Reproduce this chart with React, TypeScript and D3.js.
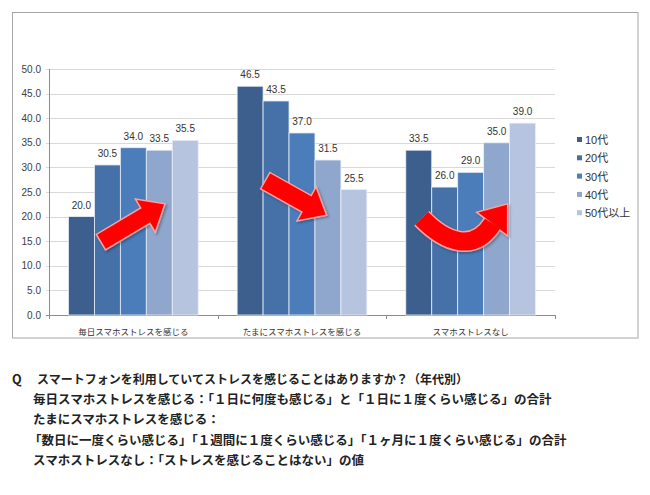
import * as d3 from 'd3';
import React from 'react';

const categories = ['毎日スマホストレスを感じる', 'たまにスマホストレスを感じる', 'スマホストレスなし'];
const seriesNames = ['10代', '20代', '30代', '40代', '50代以上'];
const values10 = [20.0, 46.5, 33.5];
const values20 = [30.5, 43.5, 26.0];
const values30 = [34.0, 37.0, 29.0];
const values40 = [33.5, 31.5, 35.0];
const values50 = [35.5, 25.5, 39.0];
const yTicks = [0, 5, 10, 15, 20, 25, 30, 35, 40, 45, 50];

const noteLines = [
    'スマートフォンを利用していてストレスを感じることはありますか？（年代別）',
    '毎日スマホストレスを感じる：「１日に何度も感じる」と「１日に１度くらい感じる」の合計',
    'たまにスマホストレスを感じる：',
    '「数日に一度くらい感じる」「１週間に１度くらい感じる」「１ヶ月に１度くらい感じる」の合計',
    'スマホストレスなし：「ストレスを感じることはない」の値',
];

const colours = ['#3c5f8e', '#4570a8', '#4c7dbb', '#8fa6cd', '#b6c4df'];

const numFont = '"Liberation Sans", Arial, "Noto Sans CJK JP", sans-serif';
const jpFont = '"Noto Sans CJK JP", sans-serif';

type Pt = [number, number];

// straight block arrow as polygon from tail to tip
function blockArrow(tail: Pt, tip: Pt, body: number, head: number, headLen: number) {
    const dx = tip[0] - tail[0];
    const dy = tip[1] - tail[1];
    const len = Math.sqrt(dx * dx + dy * dy);
    const ux = dx / len, uy = dy / len;
    const nx = -uy, ny = ux;
    const bx = tip[0] - ux * headLen, by = tip[1] - uy * headLen;
    const p = (x: number, y: number, k: number) => `${x + nx * k},${y + ny * k}`;
    return [
        p(tail[0], tail[1], body / 2), p(bx, by, body / 2), p(bx, by, head / 2),
        `${tip[0]},${tip[1]}`,
        p(bx, by, -head / 2), p(bx, by, -body / 2), p(tail[0], tail[1], -body / 2),
    ].join(' ');
}

function headTriangle(base: Pt, tip: Pt, head: number) {
    const dx = tip[0] - base[0];
    const dy = tip[1] - base[1];
    const len = Math.sqrt(dx * dx + dy * dy);
    const nx = -dy / len, ny = dx / len;
    return `${base[0] + nx * head / 2},${base[1] + ny * head / 2} ${tip[0]},${tip[1]} ${base[0] - nx * head / 2},${base[1] - ny * head / 2}`;
}

export default function App() {
    const width = 650;
    const height = 495;
    const plot = { left: 49, right: 555, top: 69, bottom: 315 };

    const series = [values10, values20, values30, values40, values50];

    const x0 = d3.scaleBand<string>().domain(categories).range([plot.left, plot.right]).padding(0);
    const bw = x0.bandwidth();
    const x1 = d3.scaleBand<string>().domain(seriesNames)
        .range([bw * 0.75 / 6.5, bw * 5.75 / 6.5]).padding(0);
    const y = d3.scaleLinear().domain([0, 50]).range([plot.bottom, plot.top]);

    // annotation helper: group index, fraction across group, value
    const at = (g: number, f: number, v: number): Pt => [(x0(categories[g]) as number) + f * bw, y(v)];

    const arrow1 = blockArrow(at(0, 0.308, 14.8), at(0, 0.688, 22.6), 18, 39, 23);
    const arrow2 = blockArrow(at(1, 0.282, 27.3), at(1, 0.646, 20.3), 19, 39, 23);
    const c0 = at(2, 0.21, 19.65);
    const c1 = at(2, 0.35, 14.7);
    const c2 = at(2, 0.52, 12.6);
    const c3 = at(2, 0.63, 18.6);
    const tip3 = at(2, 0.715, 22.4);
    const curve = `M${c0[0]},${c0[1]} C${c1[0]},${c1[1]} ${c2[0]},${c2[1]} ${c3[0]},${c3[1]}`;
    const head3 = headTriangle(c3, tip3, 36);

    const red = '#ff0000';
    const rim = '#f6a3a3';

    return (
        <svg width={width} height={height} style={{ position: 'absolute', left: 0, top: 0, background: '#fff' }}>
            <defs>
                <filter id="shadow" x="-20%" y="-20%" width="140%" height="140%">
                    <feDropShadow dx="1.5" dy="1.5" stdDeviation="1.2" floodColor="#000" floodOpacity="0.3" />
                </filter>
            </defs>
            <rect x={0} y={0} width={width} height={height} fill="#fff" />
            <rect x={12.5} y={12.5} width={625.5} height={325.5} fill="#fff" stroke="#a6a6a6" strokeWidth={1} />

            {/* gridlines + y ticks */}
            {yTicks.map((t) => (
                <g key={t}>
                    <line x1={plot.left - 3} x2={plot.right} y1={Math.round(y(t)) + 0.5} y2={Math.round(y(t)) + 0.5}
                        stroke={t === 0 ? '#8c8c8c' : '#d9d9d9'} strokeWidth={1} />
                    <text x={41} y={y(t) + 3.5} textAnchor="end" fontFamily={numFont} fontSize={10} fill="#404040">
                        {t.toFixed(1)}
                    </text>
                </g>
            ))}
            <line x1={plot.left + 0.5} x2={plot.left + 0.5} y1={plot.top} y2={plot.bottom} stroke="#8c8c8c" />
            {[0, 1, 2, 3].map((i) => (
                <line key={i} x1={Math.round(plot.left + i * bw) + 0.5} x2={Math.round(plot.left + i * bw) + 0.5}
                    y1={plot.bottom} y2={plot.bottom + 4} stroke="#8c8c8c" />
            ))}

            {/* bars */}
            {categories.map((c, gi) => (
                <g key={c} transform={`translate(${x0(c)},0)`}>
                    {seriesNames.map((s, si) => {
                        const v = series[si][gi];
                        return (
                            <rect key={s} x={x1(s)} y={y(v)} width={x1.bandwidth()} height={y(0) - y(v)}
                                fill={colours[si]} stroke="#e8eef7" strokeWidth={0.8} />
                        );
                    })}
                    {seriesNames.map((s, si) => {
                        const v = series[si][gi];
                        return (
                            <text key={s} x={(x1(s) as number) + x1.bandwidth() / 2} y={y(v) - 8}
                                textAnchor="middle" fontFamily={numFont} fontSize={10} fill="#333">
                                {v.toFixed(1)}
                            </text>
                        );
                    })}
                    <text x={bw / 2} y={335} textAnchor="middle" fontFamily={jpFont} fontSize={8.5} fill="#333">
                        {c}
                    </text>
                </g>
            ))}

            {/* arrows */}
            <g filter="url(#shadow)">
                <polygon points={arrow1} fill={red} stroke={rim} strokeWidth={1.5} strokeLinejoin="miter" />
                <polygon points={arrow2} fill={red} stroke={rim} strokeWidth={1.5} strokeLinejoin="miter" />
                <g>
                    <path d={curve} fill="none" stroke={rim} strokeWidth={21} />
                    <polygon points={head3} fill={rim} stroke={rim} strokeWidth={3} strokeLinejoin="miter" />
                    <path d={curve} fill="none" stroke={red} strokeWidth={18} />
                    <polygon points={head3} fill={red} />
                </g>
            </g>

            {/* legend */}
            {seriesNames.map((s, i) => (
                <g key={s} transform={`translate(577,${140 + i * 18.3})`}>
                    <rect x={0} y={-3} width={5} height={5} fill={colours[i]} />
                    <text x={8} y={4} fontFamily={numFont} fontSize={11} fill="#333">{s}</text>
                </g>
            ))}

            {/* notes */}
            <text x={12} y={384} fontFamily={jpFont} fontSize={12.5} fontWeight="bold" fill="#222">Q</text>
            <text x={37} y={384} fontFamily={jpFont} fontSize={12} fontWeight="bold" fill="#222">{noteLines[0]}</text>
            <text x={33} y={404} fontFamily={jpFont} fontSize={12.5} fontWeight="bold" fill="#222">{noteLines[1]}</text>
            <text x={33} y={424} fontFamily={jpFont} fontSize={12.5} fontWeight="bold" fill="#222">{noteLines[2]}</text>
            <text x={29} y={445} fontFamily={jpFont} fontSize={12.5} fontWeight="bold" fill="#222">{noteLines[3]}</text>
            <text x={33} y={465} fontFamily={jpFont} fontSize={12.5} fontWeight="bold" fill="#222">{noteLines[4]}</text>
        </svg>
    );
}
